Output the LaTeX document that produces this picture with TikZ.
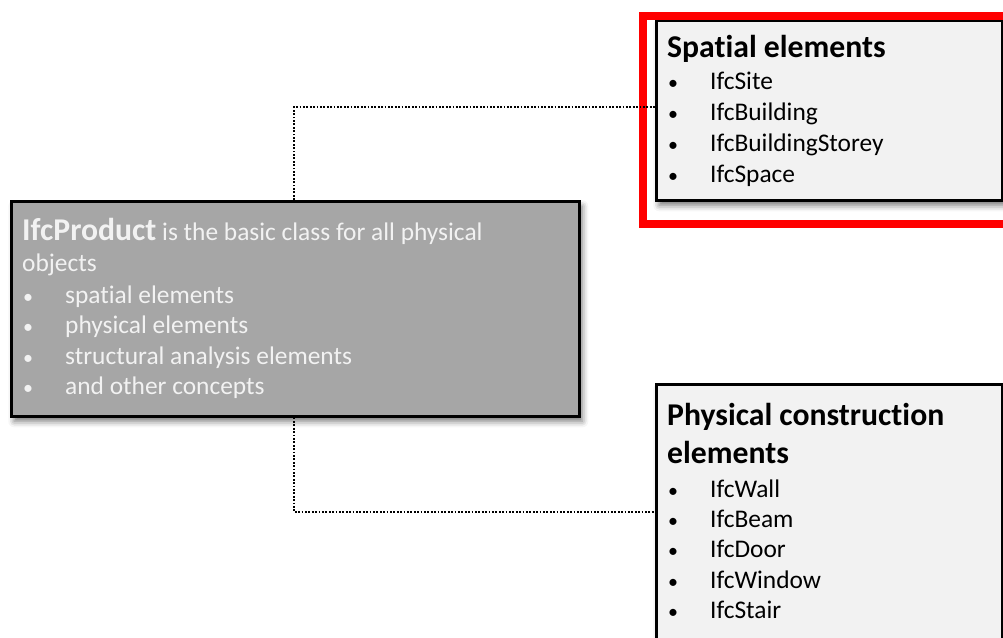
\documentclass[tikz,border=0pt]{standalone}
\usepackage{fontspec}
\setmainfont{Carlito}[Ligatures=NoCommon]
\usetikzlibrary{shadows.blur}
\definecolor{panelgray}{HTML}{A6A6A6}
\definecolor{panellight}{HTML}{F2F2F2}
\definecolor{framered}{HTML}{FF0000}
\definecolor{paletext}{HTML}{F2F2F2}
\newcommand{\itemdot}{{\fontsize{20}{30}\selectfont •}}
\begin{document}
\begin{tikzpicture}[x=1pt,y=-1pt,
  box/.style={draw=black, line width=2.6pt, inner sep=0pt, anchor=north west,
    blur shadow={shadow xshift=3pt, shadow yshift=-5pt, shadow blur radius=6pt, shadow opacity=55}},
  conn/.style={draw=black, line width=2.3pt, dash pattern=on 1.8pt off 1.6pt},
  txt/.style={anchor=base west, inner sep=0pt, font=\fontsize{25.4}{30}\selectfont},
  ttl/.style={anchor=base west, inner sep=0pt, font=\fontsize{31.7}{38}\selectfont\bfseries},
  wtxt/.style={txt, text=paletext},
]
\useasboundingbox (0,0) rectangle (1003,637);

% boxes
\node[box, fill=panelgray, minimum width=568pt, minimum height=215pt] (main) at (10,200) {};
\node[box, fill=panellight, minimum width=346pt, minimum height=180pt] (spatial) at (655,19) {};
\node[box, fill=panellight, minimum width=346pt, minimum height=290pt] (phys) at (655,383) {};

% highlight frame around the spatial box
\node[draw=framered, line width=8pt, inner sep=0pt, anchor=north west,
      minimum width=375pt, minimum height=208pt] (frame) at (639,11.5) {};

% connectors
\coordinate (tj) at (294,107);
\coordinate (bj) at (294,512);
\draw[conn] (main.north -| tj) -- (tj) -- (tj -| spatial.west);
\draw[conn] (main.south -| bj) -- (bj) -- (bj -| phys.west);

% spatial elements
\node[ttl] (st) at (667,57) {Spatial elements};
\foreach \t [count=\i] in {IfcSite,IfcBuilding,IfcBuildingStorey,IfcSpace}{
  \node[txt] (sb\i) at (668,{58+31*\i}) {\itemdot};
  \node[txt] (si\i) at (710,{58+31*\i}) {\t};
}

% IfcProduct
\node[wtxt] (m0) at (22,240) {\fontsize{31.7}{38}\selectfont\bfseries IfcProduct\normalfont\fontsize{25.4}{30}\selectfont{} is the basic class for all physical};
\node[wtxt] (m1) at (22,271) {objects};
\foreach \t [count=\i] in {spatial elements,physical elements,structural analysis elements,and other concepts}{
  \node[wtxt] (mb\i) at (23,{272.5+30.5*\i}) {\itemdot};
  \node[wtxt] (mi\i) at (65,{272.5+30.5*\i}) {\t};
}

% physical construction elements
\node[ttl] (pt1) at (667,425) {Physical construction};
\node[ttl] (pt2) at (667,463) {elements};
\foreach \t [count=\i] in {IfcWall,IfcBeam,IfcDoor,IfcWindow,IfcStair}{
  \node[txt] (pb\i) at (668,{467+30.3*\i}) {\itemdot};
  \node[txt] (pi\i) at (710,{467+30.3*\i}) {\t};
}
\end{tikzpicture}
\end{document}
